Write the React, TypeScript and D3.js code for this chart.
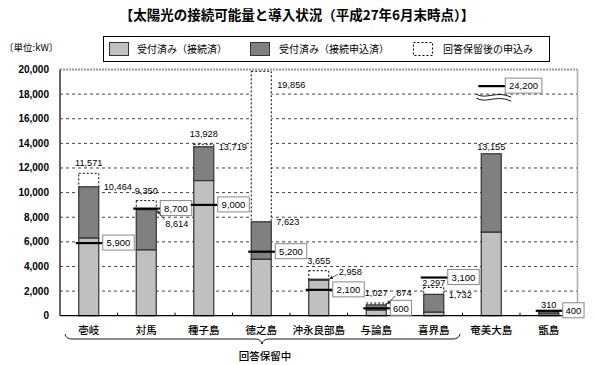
import * as d3 from "d3";

const categories = ["壱岐", "対馬", "種子島", "徳之島", "沖永良部島", "与論島", "喜界島", "奄美大島", "甑島"];
// 受付済み（接続済）
const connected = [6300, 5340, 10970, 4580, 2880, 450, 280, 6780, 150];
// 受付済み（接続申込済）: cumulative top of the dark segment
const appliedTotal = [10464, 8614, 13719, 7623, 2958, 874, 1732, 13155, 310];
// 回答保留後の申込み: cumulative top of the dashed box
const pendingTotal: (number | null)[] = [11571, 9350, 13928, 19856, 3655, 1027, 2297, null, null];
// 接続可能量
const capacity = [5900, 8700, 9000, 5200, 2100, 600, 3100, 24200, 400];
const yTicks = [0, 2000, 4000, 6000, 8000, 10000, 12000, 14000, 16000, 18000, 20000];

// label placement per category (layout only)
const appliedLabelMode = ["right", "arrowBelow", "right", "right", "arrowAbove", "arrowHigh", "right", "top", "top"];
const pendingLabelMode = ["top", "top", "top", "right", "top", "top", "tight", "", ""];

const W = 595;
const H = 365;
const left = 60;
const right = 577.5;
const top = 69.5;
const bottom = 315.7;
const barW = 20;
const BREAK_AT = 18650;

const jp = "'Noto Sans CJK JP', 'Noto Sans', sans-serif";
const num = "'Liberation Sans', Arial, sans-serif";

const fmt = d3.format(",");

export default function App() {
  const x = d3.scaleBand<string>().domain(categories).range([left, right]);
  const y = d3.scaleLinear().domain([0, 20000]).range([bottom, top]);
  const cx = (c: string) => (x(c) as number) + x.bandwidth() / 2;

  const boxW = (s: string) => s.length * 5.1 + 6;

  return (
    <svg width={W} height={H} style={{ position: "absolute", left: 0, top: 0, background: "#fff" }}>
      <defs>
        <marker id="ah" viewBox="0 0 6 6" refX="5" refY="3" markerWidth="5" markerHeight="5" orient="auto">
          <path d="M0,0 L6,3 L0,6 z" fill="#333" />
        </marker>
      </defs>

      {/* title */}
      <text x={297} y={20} textAnchor="middle" fontFamily={jp} fontWeight={700} fontSize={13.5} fill="#000">
        【太陽光の接続可能量と導入状況（平成27年6月末時点）】
      </text>

      <text x={4} y={51} fontFamily={jp} fontSize={9.5} fill="#000">〔単位:kW〕</text>

      {/* legend */}
      <g>
        <rect x={103.5} y={36.5} width={446} height={25} fill="#fff" stroke="#000" strokeWidth={1} />
        <rect x={109.5} y={42.5} width={19} height={13} fill="#c0c0c0" stroke="#333" />
        <text x={137} y={52.5} fontFamily={jp} fontSize={10} fill="#000">受付済み（接続済）</text>
        <rect x={250.5} y={42.5} width={19} height={13} fill="#808080" stroke="#333" />
        <text x={279} y={52.5} fontFamily={jp} fontSize={10} fill="#000">受付済み（接続申込済）</text>
        <rect x={413.5} y={42.5} width={19} height={13} fill="#fff" stroke="#000" strokeDasharray="2,2" />
        <text x={443} y={52.5} fontFamily={jp} fontSize={10} fill="#000">回答保留後の申込み</text>
      </g>

      {/* grid */}
      {yTicks.filter((t) => t > 0 && t < 20000).map((t) => (
        <line key={t} x1={left} x2={right} y1={y(t)} y2={y(t)} stroke="#444" strokeDasharray="3,3" strokeWidth={1} />
      ))}
      <line x1={left} x2={right} y1={y(20000)} y2={y(20000)} stroke="#999" strokeWidth={2} strokeDasharray="2,1" />
      <line x1={right} x2={right} y1={top} y2={bottom} stroke="#aaa" strokeWidth={1.5} />

      {/* y tick labels */}
      {yTicks.map((t) => (
        <text key={t} x={49} y={y(t) + 3.5} textAnchor="end" fontFamily={num} fontWeight={700} fontSize={10} fill="#000">
          {fmt(t)}
        </text>
      ))}

      {/* bars */}
      {categories.map((c, i) => {
        const x0 = cx(c) - barW / 2;
        const pend = pendingTotal[i];
        return (
          <g key={c}>
            {pend != null && (
              <rect x={x0} y={y(pend)} width={barW} height={y(appliedTotal[i]) - y(pend)} fill="#fff" stroke="#000" strokeDasharray="2,2" strokeWidth={1} />
            )}
            <rect x={x0} y={y(appliedTotal[i])} width={barW} height={y(connected[i]) - y(appliedTotal[i])} fill="#808080" stroke="#333" strokeWidth={1.2} />
            <rect x={x0} y={y(connected[i])} width={barW} height={y(0) - y(connected[i])} fill="#c0c0c0" stroke="#333" strokeWidth={1.2} />
          </g>
        );
      })}

      {/* axes */}
      <line x1={left} x2={left} y1={top} y2={bottom} stroke="#333" strokeWidth={1.5} />
      <line x1={left} x2={right} y1={bottom} y2={bottom} stroke="#000" strokeWidth={1.2} />
      {categories.slice(1).map((c) => (
        <line key={c} x1={x(c) as number} x2={x(c) as number} y1={bottom - 3} y2={bottom} stroke="#000" />
      ))}

      {/* capacity lines with boxed labels */}
      {categories.map((c, i) => {
        const xc = cx(c);
        const v = capacity[i];
        const broken = v > 20000;
        const ly = broken ? y(BREAK_AT) : y(v);
        const s = fmt(v);
        const bw = boxW(s);
        const bx = xc + barW / 2 + 4;
        return (
          <g key={c}>
            <line x1={xc - barW / 2 - 3} x2={bx} y1={ly} y2={ly} stroke="#000" strokeWidth={2.2} />
            <rect x={bx} y={ly - 8} width={bw} height={15} fill="#fff" stroke="#888" strokeWidth={1} />
            <text x={bx + bw / 2} y={ly + 3.3} textAnchor="middle" fontFamily={num} fontSize={9.5} fill="#000">{s}</text>
            {broken && (
              <g fill="none" stroke="#000" strokeWidth={0.9}>
                <path d={`M${xc - 15},${ly + 8} C${xc - 5},${ly + 14} ${xc + 5},${ly + 4} ${xc + 20},${ly + 11}`} />
                <path d={`M${xc - 15},${ly + 12} C${xc - 5},${ly + 18} ${xc + 5},${ly + 8} ${xc + 20},${ly + 15}`} />
              </g>
            )}
          </g>
        );
      })}

      {/* value labels */}
      {categories.map((c, i) => {
        const xc = cx(c);
        const xr = xc + barW / 2;
        const a = appliedTotal[i];
        const pend = pendingTotal[i];
        const mode = appliedLabelMode[i];
        const pm = pendingLabelMode[i];
        return (
          <g key={c} fontFamily={num} fontSize={9.2} fill="#000">
            {mode === "right" && <text x={xr + 5} y={y(a) + 3.5}>{fmt(a)}</text>}
            {mode === "top" && <text x={xc} y={y(a) - 4} textAnchor="middle">{fmt(a)}</text>}
            {mode === "arrowBelow" && (
              <g>
                <text x={xr + 9} y={y(a) + 17}>{fmt(a)}</text>
                <line x1={xr + 8} y1={y(a) + 10} x2={xr + 1} y2={y(a) + 1} stroke="#333" strokeWidth={0.8} markerEnd="url(#ah)" />
              </g>
            )}
            {mode === "arrowAbove" && (
              <g>
                <text x={xr + 10} y={y(a) - 4}>{fmt(a)}</text>
                <line x1={xr + 9} y1={y(a) - 5} x2={xr + 1} y2={y(a) - 0.5} stroke="#333" strokeWidth={0.8} markerEnd="url(#ah)" />
              </g>
            )}
            {mode === "arrowHigh" && (
              <g>
                <text x={xr + 10} y={y(a) - 8.5}>{fmt(a)}</text>
                <line x1={xr + 9} y1={y(a) - 9} x2={xr + 1} y2={y(a) - 1} stroke="#333" strokeWidth={0.8} markerEnd="url(#ah)" />
              </g>
            )}
            {pend != null && pm === "top" && <text x={xc} y={y(pend) - 7} textAnchor="middle">{fmt(pend)}</text>}
            {pend != null && pm === "tight" && <text x={xc} y={y(pend) - 1.2} textAnchor="middle">{fmt(pend)}</text>}
            {pend != null && pm === "right" && <text x={xr + 6} y={y(pend) + 17}>{fmt(pend)}</text>}
          </g>
        );
      })}

      {/* category labels */}
      {categories.map((c) => (
        <text key={c} x={cx(c)} y={334} textAnchor="middle" fontFamily={jp} fontWeight={500} fontSize={10.5} fill="#000">
          {c}
        </text>
      ))}

      {/* brace */}
      <path
        d="M65,334 Q66,339 72,339 L255,339 Q261,339 262,344 Q263,339 269,339 L453,339 Q459,339 460,334"
        fill="none"
        stroke="#000"
        strokeWidth={0.9}
      />
      <text x={265} y={360} textAnchor="middle" fontFamily={jp} fontWeight={500} fontSize={10.5} fill="#000">回答保留中</text>
    </svg>
  );
}
